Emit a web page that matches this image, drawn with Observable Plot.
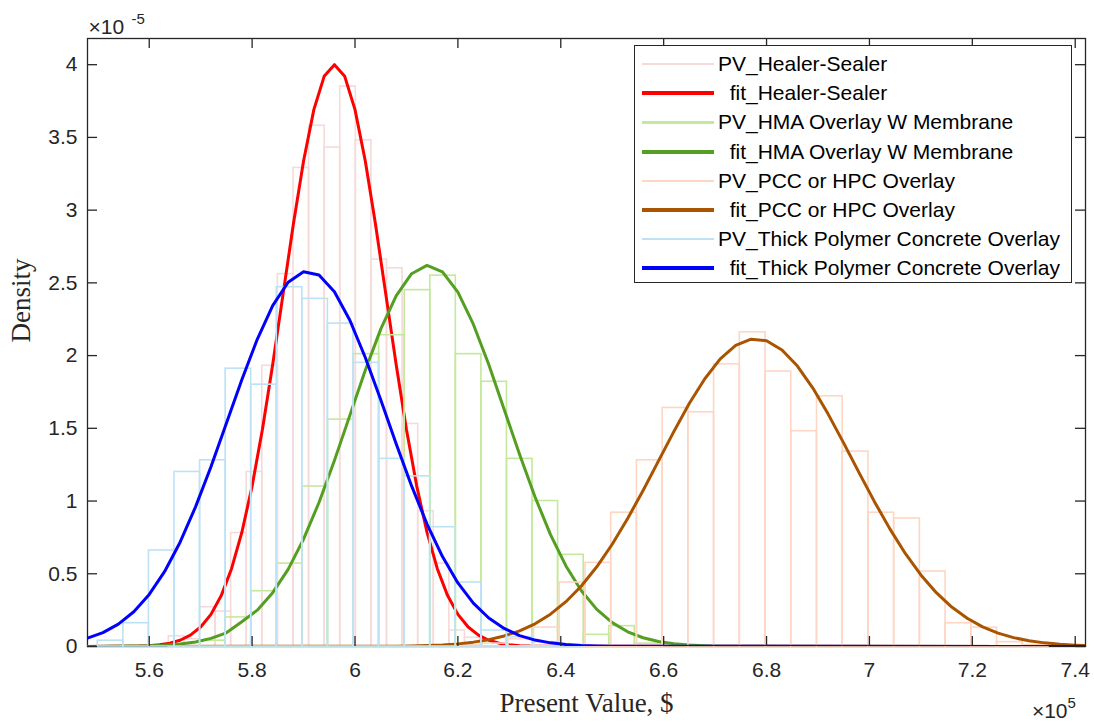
<!DOCTYPE html>
<html>
<head>
<meta charset="utf-8">
<script src="https://cdn.jsdelivr.net/npm/d3@7"></script>
<script src="https://cdn.jsdelivr.net/npm/@observablehq/plot@0.6"></script>
<style>
  body { margin: 0; background: #fff; }
  #wrap { position: relative; width: 1094px; height: 723px; overflow: hidden; }
  #legend { position: absolute; left: 634px; top: 45px; width: 438px; height: 238px;
    border: 1.3px solid #262626; background: #fff; box-sizing: border-box;
    font-family: "Liberation Sans", Arial, sans-serif; font-size: 21px; color: #000; }
  .row { position: absolute; left: 0; right: 0; height: 28px; white-space: pre; }
  .sw { position: absolute; left: 7px; width: 72px; }
  .lb { position: absolute; left: 83px; top: 0; line-height: 28px; }
</style>
</head>
<body>
<div id="wrap"></div>
<script>
// ---------- data (x in units of 1e5 $, density in units of 1e-5) ----------
const xTicks = [5.6, 5.8, 6.0, 6.2, 6.4, 6.6, 6.8, 7.0, 7.2, 7.4];
const yTicks = [0, 0.5, 1, 1.5, 2, 2.5, 3, 3.5, 4];

const seriesNames = [
  "PV_Healer-Sealer", "  fit_Healer-Sealer",
  "PV_HMA Overlay W Membrane", "  fit_HMA Overlay W Membrane",
  "PV_PCC or HPC Overlay", "  fit_PCC or HPC Overlay",
  "PV_Thick Polymer Concrete Overlay", "  fit_Thick Polymer Concrete Overlay"
];
const seriesColors = ["#f6dada", "#ff0000", "#c4e99a", "#549f21", "#ffd5c4", "#a95400", "#bde2f5", "#0000ff"];

// histograms: first bin edge, bin width, densities
const healerBinStart = 5.638, healerBinWidth = 0.0303;
const healerDensity = [0.07, 0.05, 0.27, 0.24, 0.78, 1.20, 1.93, 2.56, 3.29, 3.58, 3.43, 3.85, 3.48, 2.66, 2.60, 1.53, 0.93, 0.57, 0.11, 0.06];

const hmaBinStart = 5.699, hmaBinWidth = 0.0497;
const hmaDensity = [0.04, 0.20, 0.38, 0.57, 1.10, 1.56, 2.01, 2.14, 2.45, 2.55, 2.01, 1.82, 1.29, 1.00, 0.63, 0.08, 0.14, 0.02];

const pccBinStart = 6.198, pccBinWidth = 0.05;
const pccDensity = [0.01, 0.02, 0.05, 0.13, 0.44, 0.575, 0.92, 1.28, 1.64, 1.61, 1.94, 2.16, 1.89, 1.48, 1.72, 1.34, 0.92, 0.88, 0.515, 0.16, 0.13, 0.03, 0.01];

const thickBinStart = 5.50, thickBinWidth = 0.0497;
const thickDensity = [0.04, 0.16, 0.66, 1.20, 1.28, 1.91, 1.80, 2.47, 2.39, 2.22, 1.95, 1.29, 1.17, 0.82, 0.44, 0.11, 0.064, 0.03, 0.01];

// fitted curves
const healerFitX = [5.48, 5.58, 5.60, 5.62, 5.64, 5.66, 5.68, 5.70, 5.72, 5.74, 5.76, 5.78, 5.80, 5.82, 5.84, 5.86, 5.88, 5.90, 5.92, 5.94, 5.96, 5.98, 6.00, 6.02, 6.04, 6.06, 6.08, 6.10, 6.12, 6.14, 6.16, 6.18, 6.20, 6.22, 6.24, 6.26, 6.28, 6.30, 6.32, 6.34, 7.42];
const healerFitY = [0, 0.003, 0.006, 0.012, 0.023, 0.043, 0.078, 0.134, 0.221, 0.350, 0.535, 0.784, 1.103, 1.492, 1.939, 2.419, 2.899, 3.338, 3.691, 3.920, 4.000, 3.920, 3.691, 3.338, 2.899, 2.419, 1.939, 1.492, 1.103, 0.784, 0.535, 0.350, 0.221, 0.134, 0.078, 0.043, 0.023, 0.012, 0.006, 0.003, 0];

const hmaFitX = [5.48, 5.60, 5.63, 5.66, 5.69, 5.72, 5.75, 5.78, 5.81, 5.84, 5.87, 5.90, 5.93, 5.96, 5.99, 6.02, 6.05, 6.08, 6.11, 6.14, 6.17, 6.20, 6.23, 6.26, 6.29, 6.32, 6.35, 6.38, 6.41, 6.44, 6.47, 6.50, 6.53, 6.56, 6.59, 6.62, 6.65, 6.68, 6.71, 7.42];
const hmaFitY = [0, 0.005, 0.009, 0.017, 0.031, 0.056, 0.094, 0.17, 0.25, 0.37, 0.53, 0.738, 0.990, 1.279, 1.589, 1.899, 2.182, 2.411, 2.563, 2.620, 2.576, 2.436, 2.216, 1.939, 1.630, 1.320, 1.028, 0.769, 0.554, 0.383, 0.255, 0.164, 0.101, 0.060, 0.034, 0.019, 0.010, 0.005, 0.002, 0];

const pccFitX = [5.48, 6.08, 6.11, 6.14, 6.17, 6.20, 6.23, 6.26, 6.29, 6.32, 6.35, 6.38, 6.41, 6.44, 6.47, 6.50, 6.53, 6.56, 6.59, 6.62, 6.65, 6.68, 6.71, 6.74, 6.77, 6.80, 6.83, 6.86, 6.89, 6.92, 6.95, 6.98, 7.01, 7.04, 7.07, 7.10, 7.13, 7.16, 7.19, 7.22, 7.25, 7.28, 7.31, 7.34, 7.37, 7.40, 7.42];
const pccFitY = [0, 0.002, 0.004, 0.007, 0.011, 0.018, 0.030, 0.047, 0.072, 0.107, 0.156, 0.222, 0.308, 0.416, 0.548, 0.703, 0.880, 1.073, 1.276, 1.479, 1.672, 1.841, 1.977, 2.070, 2.113, 2.102, 2.039, 1.928, 1.777, 1.596, 1.398, 1.194, 0.994, 0.807, 0.638, 0.492, 0.370, 0.271, 0.194, 0.135, 0.092, 0.061, 0.039, 0.025, 0.015, 0.009, 0.006];

const thickFitX = [5.48, 5.51, 5.54, 5.57, 5.60, 5.63, 5.66, 5.69, 5.72, 5.75, 5.78, 5.81, 5.84, 5.87, 5.90, 5.93, 5.96, 5.99, 6.02, 6.05, 6.08, 6.11, 6.14, 6.17, 6.20, 6.23, 6.26, 6.29, 6.32, 6.35, 6.38, 6.41, 6.44, 6.47, 6.50, 7.42];
const thickFitY = [0.057, 0.095, 0.154, 0.239, 0.358, 0.516, 0.717, 0.960, 1.236, 1.535, 1.834, 2.112, 2.343, 2.504, 2.577, 2.554, 2.439, 2.243, 1.987, 1.696, 1.394, 1.104, 0.842, 0.618, 0.437, 0.298, 0.196, 0.124, 0.075, 0.044, 0.025, 0.014, 0.007, 0.004, 0.002, 0];

// ---------- build tables ----------
function binTable(start, width, dens) {
  return dens.map((d, i) => ({x1: start + i * width, x2: start + (i + 1) * width, y: d})).filter(d => d.y > 0);
}
function curveTable(xs, ys) { return xs.map((x, i) => ({x, y: ys[i]})); }

const hists = [
  binTable(healerBinStart, healerBinWidth, healerDensity),
  binTable(hmaBinStart, hmaBinWidth, hmaDensity),
  binTable(pccBinStart, pccBinWidth, pccDensity),
  binTable(thickBinStart, thickBinWidth, thickDensity)
];
const fits = [
  curveTable(healerFitX, healerFitY),
  curveTable(hmaFitX, hmaFitY),
  curveTable(pccFitX, pccFitY),
  curveTable(thickFitX, thickFitY)
];

const axisColor = "#262626";
const sans = "'Liberation Sans', Arial, Helvetica, sans-serif";
const serif = "'Liberation Serif', 'Times New Roman', serif";

const dataMarks = [];
for (let k = 0; k < 4; k++) {
  dataMarks.push(Plot.rect(hists[k], {x1: "x1", x2: "x2", y1: 0, y2: "y", fill: "none", stroke: seriesColors[2 * k], strokeWidth: 1.6}));
  dataMarks.push(Plot.line(fits[k], {x: "x", y: "y", stroke: seriesColors[2 * k + 1], strokeWidth: 3, clip: true}));
}

const chart = Plot.plot({
  width: 1094,
  height: 723,
  marginLeft: 87,
  marginRight: 9,
  marginTop: 38,
  marginBottom: 77,
  x: {domain: [5.48, 7.42], label: null},
  y: {domain: [0, 4.18], label: null},
  style: {fontFamily: sans, fontSize: "21px", color: axisColor, background: "#fff"},
  marks: [
    Plot.frame({stroke: axisColor, strokeWidth: 1.3}),
    ...dataMarks,
    // inward ticks on all four sides
    Plot.tickX(xTicks, {x: d => d, insetTop: 598, stroke: axisColor, strokeWidth: 1.3}),
    Plot.tickX(xTicks, {x: d => d, insetBottom: 598, stroke: axisColor, strokeWidth: 1.3}),
    Plot.tickY(yTicks, {y: d => d, insetRight: 988, stroke: axisColor, strokeWidth: 1.3}),
    Plot.tickY(yTicks, {y: d => d, insetLeft: 988, stroke: axisColor, strokeWidth: 1.3}),
    Plot.axisX(xTicks, {tickSize: 0, tickPadding: 16, tickFormat: d => String(Math.round(d * 10) / 10), fill: axisColor, label: null}),
    Plot.axisY(yTicks, {tickSize: 0, tickPadding: 10, tickFormat: d => String(d), fill: axisColor, label: null}),
    // axis titles and exponent labels
    Plot.text(["Present Value, $"], {text: d => d, frameAnchor: "bottom", dy: 65, fontFamily: serif, fontSize: 27, fill: axisColor}),
    Plot.text(["Density"], {text: d => d, frameAnchor: "left", dx: -66, rotate: -90, fontFamily: serif, fontSize: 27, fill: axisColor}),
    Plot.text(["×10"], {text: d => d, frameAnchor: "top-left", textAnchor: "start", lineAnchor: "bottom", dx: 1, dy: -5, fontSize: 21, fill: axisColor}),
    Plot.text(["-5"], {text: d => d, frameAnchor: "top-left", textAnchor: "start", lineAnchor: "bottom", dx: 44, dy: -15, fontSize: 15, fill: axisColor}),
    Plot.text(["×10"], {text: d => d, frameAnchor: "bottom-right", textAnchor: "end", lineAnchor: "bottom", dx: -18, dy: 71, fontSize: 21, fill: axisColor}),
    Plot.text(["5"], {text: d => d, frameAnchor: "bottom-right", textAnchor: "start", lineAnchor: "bottom", dx: -18, dy: 61, fontSize: 15, fill: axisColor})
  ]
});

const wrap = document.getElementById("wrap");
wrap.appendChild(chart);

// legend (inside the axes, top right)
const legend = document.createElement("div");
legend.id = "legend";
seriesNames.forEach((name, i) => {
  const row = document.createElement("div");
  row.className = "row";
  row.style.top = (4 + i * 29.2) + "px";
  const sw = document.createElement("div");
  sw.className = "sw";
  const thick = i % 2 === 1 ? 4 : 2.5;
  sw.style.height = thick + "px";
  sw.style.top = (14 - thick / 2) + "px";
  sw.style.background = seriesColors[i];
  const lb = document.createElement("span");
  lb.className = "lb";
  lb.textContent = name;
  row.appendChild(sw);
  row.appendChild(lb);
  legend.appendChild(row);
});
wrap.appendChild(legend);
</script>
</body>
</html>
